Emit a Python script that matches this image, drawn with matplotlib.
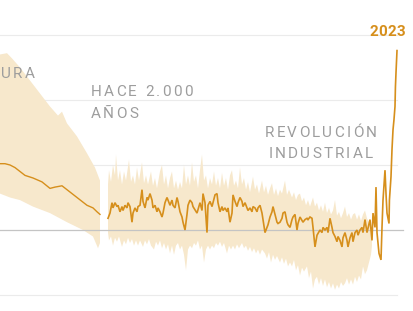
import numpy as np
import matplotlib.pyplot as plt

W, H = 414, 311

# reconstruccion larga (años, anomalia en grados)
holo_years = [-6000, -5700, -5400, -5100, -4800, -4500, -4020, -3480, -3000, -2700,
              -2280, -1980, -1680, -1380, -1080, -780, -420, -180, 0]
holo_temp = [0.51, 0.51, 0.50, 0.48, 0.45, 0.42, 0.40, 0.37, 0.32, 0.33,
             0.34, 0.31, 0.28, 0.25, 0.22, 0.19, 0.17, 0.14, 0.12]
holo_hi_years = [-6000, -5580, -5280, -4800, -4200, -3600, -3000, -2520, -2280, -1980,
                 -1380, -780, -300, 0]
holo_hi = [1.35, 1.36, 1.32, 1.25, 1.15, 1.05, 0.95, 0.88, 0.91, 0.82,
           0.72, 0.59, 0.48, 0.38]
holo_lo_years = [-6000, -5400, -4800, -4020, -3000, -1980, -1020, -420, -120, 0]
holo_lo = [0.28, 0.25, 0.23, 0.18, 0.13, 0.06, 0.00, -0.05, -0.14, -0.10]

# ultimos 2.000 años
years = [0, 14, 28, 35, 49, 63, 70, 84, 98, 105, 119, 133, 140, 154, 168, 175, 189, 203,
         210, 224, 238, 245, 259, 273, 280, 294, 308, 315, 329, 343, 350, 364, 378, 385,
         399, 413, 420, 434, 448, 455, 469, 483, 490, 504, 518, 525, 539, 553, 560, 574,
         588, 595, 623, 644, 658, 665, 679, 693, 700, 714, 728, 735, 749, 763, 770, 784,
         798, 805, 819, 833, 840, 854, 868, 875, 889, 903, 910, 924, 938, 945, 959, 973,
         980, 994, 1008, 1015, 1029, 1043, 1050, 1064, 1078, 1085, 1099, 1113, 1120, 1134,
         1148, 1155, 1169, 1183, 1190, 1204, 1218, 1225, 1239, 1253, 1260, 1274, 1288,
         1295, 1309, 1323, 1330, 1344, 1365, 1379, 1393, 1400, 1414, 1428, 1435, 1449,
         1463, 1484, 1498, 1505, 1519, 1533, 1540, 1554, 1568, 1575, 1589, 1603, 1610,
         1624, 1638, 1645, 1659, 1673, 1680, 1694, 1708, 1715, 1729, 1743, 1750, 1764,
         1778, 1785, 1799, 1813, 1834, 1848, 1855, 1869, 1876, 1883, 1897, 1911, 1918,
         1925, 1939, 1946, 1953, 1967, 1970, 1981, 1988, 1995, 2002, 2009, 2012, 2016, 2023]
temp = [0.09, 0.13, 0.21, 0.17, 0.21, 0.18, 0.19, 0.14, 0.18, 0.15, 0.19, 0.17, 0.21, 0.18,
        0.06, 0.13, 0.17, 0.14, 0.18, 0.19, 0.31, 0.22, 0.17, 0.25, 0.23, 0.28, 0.23, 0.17,
        0.19, 0.14, 0.17, 0.14, 0.10, 0.13, 0.21, 0.25, 0.23, 0.19, 0.23, 0.19, 0.17, 0.25,
        0.22, 0.14, 0.10, 0.06, 0.00, 0.12, 0.19, 0.23, 0.21, 0.18, 0.13, 0.21, 0.15, 0.28,
        0.21, -0.02, 0.19, 0.22, 0.18, 0.21, 0.27, 0.28, 0.21, 0.14, 0.18, 0.15, 0.17, 0.14,
        0.17, 0.06, 0.13, 0.27, 0.22, 0.18, 0.21, 0.25, 0.22, 0.18, 0.21, 0.17, 0.15, 0.17,
        0.14, 0.18, 0.17, 0.14, 0.17, 0.19, 0.13, 0.08, -0.02, 0.02, 0.04, 0.10, 0.14, 0.18,
        0.12, 0.06, 0.05, 0.06, 0.09, 0.13, 0.14, 0.06, 0.04, 0.02, 0.08, 0.10, 0.12, 0.00,
        0.05, 0.10, 0.06, 0.08, 0.09, 0.08, 0.10, 0.09, 0.02, -0.13, -0.04, 0.00, -0.02, 0.02,
        0.00, 0.02, -0.02, 0.09, 0.02, -0.02, -0.05, -0.09, -0.05, -0.08, -0.13, -0.06, -0.02,
        -0.08, -0.13, -0.06, -0.02, -0.09, -0.02, 0.00, -0.04, 0.00, 0.02, -0.02, 0.08, -0.02,
        0.08, -0.08, 0.13, 0.02, 0.33, -0.02, -0.18, -0.23, 0.02, 0.23, 0.46, 0.28, 0.13,
        0.05, 0.23, 0.41, 0.62, 0.77, 0.85, 0.95, 1.10, 1.21, 1.38]

band_hi_years = [0, 7, 21, 35, 49, 56, 70, 84, 98, 112, 126, 147, 161, 175, 189, 203, 217,
                 238, 252, 266, 280, 301, 315, 329, 343, 364, 378, 392, 406, 420, 434, 448,
                 462, 476, 490, 504, 518, 532, 546, 560, 574, 588, 602, 616, 630, 644, 658,
                 672, 686, 700, 714, 728, 742, 756, 770, 784, 798, 812, 826, 840, 854, 868,
                 882, 896, 910, 924, 938, 952, 966, 980, 994, 1015, 1029, 1043, 1057, 1078,
                 1092, 1106, 1120, 1134, 1148, 1162, 1176, 1190, 1204, 1218, 1239, 1253, 1267,
                 1288, 1302, 1316, 1330, 1344, 1358, 1372, 1386, 1400, 1414, 1435, 1449, 1463,
                 1477, 1491, 1505, 1519, 1533, 1547, 1561, 1575, 1589, 1603, 1617, 1631, 1645,
                 1659, 1673, 1687, 1701, 1715, 1729, 1743, 1757, 1771, 1785, 1799, 1813, 1827,
                 1841, 1848]
band_hi = [0.35, 0.46, 0.37, 0.50, 0.42, 0.58, 0.38, 0.46, 0.35, 0.45, 0.38, 0.54, 0.37,
           0.42, 0.35, 0.48, 0.38, 0.52, 0.36, 0.42, 0.35, 0.45, 0.34, 0.40, 0.32, 0.45,
           0.50, 0.35, 0.42, 0.32, 0.40, 0.45, 0.32, 0.38, 0.31, 0.37, 0.32, 0.50, 0.35,
           0.42, 0.34, 0.52, 0.37, 0.42, 0.32, 0.46, 0.58, 0.38, 0.42, 0.32, 0.40, 0.35,
           0.45, 0.34, 0.40, 0.32, 0.44, 0.34, 0.40, 0.31, 0.42, 0.46, 0.34, 0.38, 0.32,
           0.48, 0.35, 0.40, 0.31, 0.37, 0.29, 0.41, 0.31, 0.35, 0.28, 0.38, 0.29, 0.34,
           0.27, 0.32, 0.36, 0.27, 0.32, 0.26, 0.31, 0.28, 0.38, 0.27, 0.31, 0.25, 0.29,
           0.23, 0.27, 0.28, 0.22, 0.25, 0.19, 0.23, 0.18, 0.25, 0.18, 0.21, 0.15, 0.19,
           0.14, 0.21, 0.13, 0.17, 0.12, 0.15, 0.23, 0.11, 0.14, 0.09, 0.13, 0.18, 0.10,
           0.13, 0.08, 0.12, 0.13, 0.08, 0.12, 0.07, 0.12, 0.15, 0.09, 0.06, 0.02, -0.02]
band_lo_years = [0, 7, 21, 35, 49, 63, 77, 98, 112, 126, 140, 154, 168, 182, 196, 210, 224,
                 245, 259, 273, 287, 301, 322, 336, 350, 364, 378, 392, 406, 420, 434, 448,
                 462, 476, 490, 504, 518, 532, 546, 560, 574, 588, 602, 616, 630, 644, 658,
                 672, 686, 700, 714, 728, 742, 756, 770, 784, 798, 812, 833, 847, 861, 875,
                 889, 903, 917, 938, 952, 966, 980, 994, 1008, 1022, 1036, 1050, 1064, 1078,
                 1099, 1113, 1127, 1141, 1155, 1169, 1183, 1204, 1218, 1232, 1246, 1260, 1274,
                 1288, 1302, 1316, 1330, 1344, 1358, 1372, 1393, 1407, 1421, 1435, 1449, 1463,
                 1477, 1491, 1505, 1519, 1533, 1547, 1561, 1575, 1589, 1603, 1617, 1631, 1645,
                 1659, 1673, 1687, 1701, 1715, 1729, 1743, 1757, 1771, 1785, 1799, 1813, 1827,
                 1841, 1848]
band_lo = [-0.02, -0.08, -0.05, -0.12, -0.06, -0.09, -0.05, -0.13, -0.08, -0.11, -0.06,
           -0.10, -0.07, -0.12, -0.08, -0.12, -0.08, -0.13, -0.08, -0.11, -0.07, -0.12,
           -0.15, -0.09, -0.12, -0.08, -0.14, -0.10, -0.15, -0.11, -0.18, -0.12, -0.19,
           -0.12, -0.10, -0.15, -0.12, -0.19, -0.31, -0.15, -0.12, -0.14, -0.10, -0.12,
           -0.08, -0.15, -0.12, -0.25, -0.15, -0.12, -0.15, -0.12, -0.14, -0.10, -0.12,
           -0.09, -0.13, -0.10, -0.18, -0.12, -0.15, -0.12, -0.15, -0.11, -0.14, -0.10,
           -0.14, -0.12, -0.16, -0.13, -0.17, -0.14, -0.18, -0.15, -0.19, -0.15, -0.18,
           -0.22, -0.17, -0.25, -0.19, -0.23, -0.20, -0.25, -0.21, -0.26, -0.22, -0.28,
           -0.25, -0.28, -0.23, -0.31, -0.27, -0.35, -0.29, -0.32, -0.28, -0.37, -0.32,
           -0.45, -0.38, -0.36, -0.42, -0.37, -0.43, -0.38, -0.44, -0.40, -0.45, -0.41,
           -0.46, -0.42, -0.45, -0.40, -0.43, -0.41, -0.37, -0.42, -0.38, -0.42, -0.36,
           -0.40, -0.35, -0.38, -0.28, -0.34, -0.31, -0.25, -0.19, -0.12]

grid_levels = [-0.5, 0.5, 1.0, 1.5]

ORANGE = "#d68f1c"
BAND = "#f7e8cc"
GREY_TXT = "#9d9d9d"

fig = plt.figure(figsize=(W / 100, H / 100), dpi=100)
fig.patch.set_facecolor("white")

split = 103.5
ax_l = fig.add_axes([0, 0, split / W, 1])
ax_r = fig.add_axes([split / W, 0, (W - split) / W, 1])

for ax in (ax_l, ax_r):
    ax.set_ylim(-0.623, 1.769)
    ax.axis("off")

ax_l.set_xlim(-6000, 210)
ax_r.set_xlim(-31.5, 2142)

# lineas de referencia
for g in grid_levels:
    ax_l.axhline(g, color="#ebebeb", lw=0.8, zorder=0)
    ax_r.axhline(g, color="#ebebeb", lw=0.8, xmax=0.945, zorder=0)
ax_l.axhline(0, color="#c4c4c4", lw=0.9, zorder=3)
ax_r.axhline(0, color="#c4c4c4", lw=0.9, xmax=0.965, zorder=3)

# bandas de incertidumbre
ax_l.fill(holo_hi_years + holo_lo_years[::-1], holo_hi + holo_lo[::-1],
          color=BAND, lw=0, zorder=1)
ax_r.fill(band_hi_years + band_lo_years[::-1], band_hi + band_lo[::-1],
          color=BAND, lw=0, zorder=1)

ax_l.plot(holo_years, holo_temp, color=ORANGE, lw=1.0, zorder=4)
ax_r.plot(years, temp, color=ORANGE, lw=1.2, zorder=4, solid_joinstyle="miter")


def tracked(x, y, s, size, color, track, ha="left", weight="normal"):
    # letra a letra para imitar el espaciado
    r = fig.canvas.get_renderer()
    ws = []
    for ch in s:
        if ch == " ":
            a = fig.text(0, 0, "n n", fontsize=size, family="Roboto", weight=weight)
            b = fig.text(0, 0, "nn", fontsize=size, family="Roboto", weight=weight)
            ws.append(a.get_window_extent(r).width - b.get_window_extent(r).width)
            a.remove()
            b.remove()
        else:
            t = fig.text(0, 0, ch, fontsize=size, family="Roboto", weight=weight)
            ws.append(t.get_window_extent(r).width)
            t.remove()
    total = sum(ws) + track * (len(s) - 1)
    if ha == "center":
        x -= total / 2
    elif ha == "right":
        x -= total
    for ch, w in zip(s, ws):
        fig.text(x / W, 1 - y / H, ch, fontsize=size, family="Roboto", weight=weight,
                 color=color, va="baseline", ha="left", zorder=5)
        x += w + track


tracked(1, 78, "URA", 11, GREY_TXT, 2.2)
tracked(91, 96, "HACE 2.000", 11, GREY_TXT, 2.2)
tracked(91, 118, "AÑOS", 11, GREY_TXT, 2.2)
tracked(320.5, 137, "REVOLUCIÓN", 11, GREY_TXT, 2.2, ha="center")
tracked(320.5, 158, "INDUSTRIAL", 11, GREY_TXT, 2.2, ha="center")
tracked(405, 36, "2023", 11, ORANGE, 0.3, ha="right", weight="bold")

fig.savefig("out.png", dpi=100, facecolor="white")
